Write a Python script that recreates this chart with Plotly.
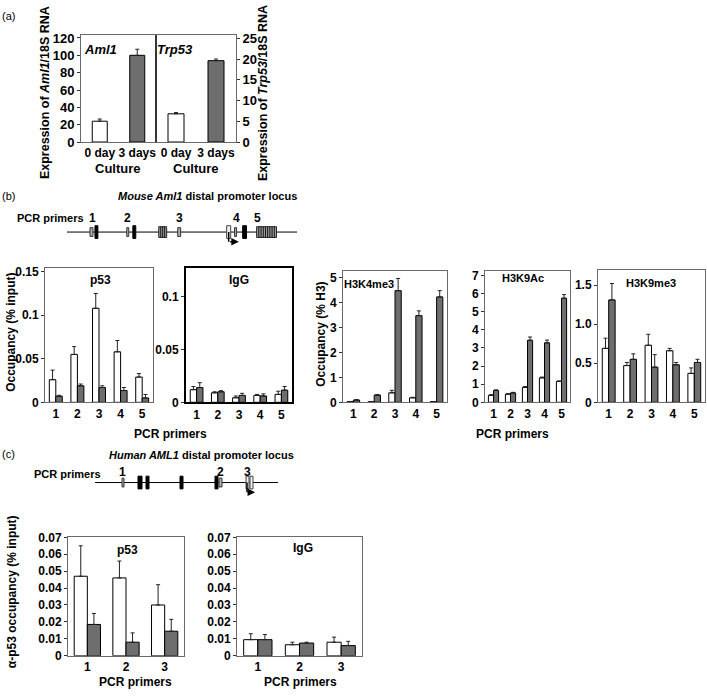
import plotly.graph_objects as go

W, H = 707, 697
FONT = "Liberation Sans"
GREY = "#6e6e6e"
FRAME = "#6a6a6a"

# ---------------- (a) RNA expression ----------------
a_days = ["0 day", "3 days"]
a_aml1 = [24, 100]
a_aml1_err = [2.5, 7]
a_trp53 = [6.8, 19.6]
a_trp53_err = [0.3, 0.4]
a_left_ticks = [0, 20, 40, 60, 80, 100, 120]
a_right_ticks = [0, 5, 10, 15, 20, 25]

# ---------------- (b) mouse Aml1 ChIP ----------------
b_primers = ["1", "2", "3", "4", "5"]
b_p53_0d = [0.026, 0.055, 0.108, 0.058, 0.029]
b_p53_0d_err = [0.011, 0.009, 0.017, 0.013, 0.004]
b_p53_3d = [0.007, 0.019, 0.017, 0.0135, 0.005]
b_p53_3d_err = [0.001, 0.002, 0.002, 0.0035, 0.004]
b_igg_0d = [0.012, 0.009, 0.0043, 0.0065, 0.0075]
b_igg_0d_err = [0.003, 0.001, 0.0017, 0.001, 0.003]
b_igg_3d = [0.014, 0.010, 0.0065, 0.006, 0.0115]
b_igg_3d_err = [0.0046, 0.001, 0.002, 0.002, 0.0035]
b_k4_0d = [0.03, 0.02, 0.38, 0.18, 0.03]
b_k4_0d_err = [0.0, 0.0, 0.1, 0.02, 0.0]
b_k4_3d = [0.09, 0.29, 4.47, 3.47, 4.22]
b_k4_3d_err = [0.02, 0.02, 0.49, 0.19, 0.25]
b_k9ac_0d = [0.38, 0.45, 0.82, 1.35, 1.15]
b_k9ac_0d_err = [0.04, 0.02, 0.05, 0.04, 0.03]
b_k9ac_3d = [0.65, 0.52, 3.42, 3.28, 5.74]
b_k9ac_3d_err = [0.04, 0.03, 0.18, 0.15, 0.2]
b_k9me3_0d = [0.69, 0.47, 0.73, 0.66, 0.37]
b_k9me3_0d_err = [0.13, 0.04, 0.14, 0.03, 0.07]
b_k9me3_3d = [1.31, 0.55, 0.45, 0.48, 0.51]
b_k9me3_3d_err = [0.21, 0.07, 0.16, 0.03, 0.04]

b_p53_ticks = [0, 0.05, 0.1, 0.15]
b_p53_ticktext = ["0", "0.05", "0.1", "0.15"]
b_igg_ticks = [0, 0.05, 0.1]
b_igg_ticktext = ["0", "0.05", "0.1"]
b_k4_ticks = [0, 1, 2, 3, 4, 5]
b_k9ac_ticks = [0, 1, 2, 3, 4, 5, 6, 7]
b_k9me3_ticks = [0, 0.5, 1.0, 1.5]
b_k9me3_ticktext = ["0", "0.5", "1.0", "1.5"]

# ---------------- (c) human AML1 ChIP ----------------
c_primers = ["1", "2", "3"]
c_p53_0d = [0.047, 0.046, 0.030]
c_p53_0d_err = [0.018, 0.010, 0.012]
c_p53_3d = [0.0185, 0.008, 0.0145]
c_p53_3d_err = [0.0065, 0.0055, 0.007]
c_igg_0d = [0.0095, 0.0065, 0.008]
c_igg_0d_err = [0.0035, 0.0015, 0.003]
c_igg_3d = [0.0095, 0.0075, 0.006]
c_igg_3d_err = [0.003, 0.0005, 0.0025]
c_ticks = [0, 0.01, 0.02, 0.03, 0.04, 0.05, 0.06, 0.07]
c_ticktext = ["0", "0.01", "0.02", "0.03", "0.04", "0.05", "0.06", "0.07"]

# ---------------- gene diagrams (kb) ----------------
b_locus_kb = 10.2
b_elements = [  # start, end, kind, stripes
    (1.02, 1.15, "grey", 0), (1.24, 1.37, "black", 0),
    (2.65, 2.74, "grey", 0), (2.92, 3.05, "black", 0),
    (4.07, 4.42, "striped", 3), (4.91, 5.04, "grey", 0),
    (7.08, 7.26, "hollow", 0), (7.43, 7.52, "grey", 0),
    (7.79, 7.96, "black", 0), (8.41, 9.29, "striped", 8),
]
b_primer_labels = ["1", "2", "3", "4", "5"]
b_primer_pos = [1.11, 2.70, 5.00, 7.52, 8.45]
b_tss = 7.17

c_locus_kb = 7.32
c_elements = [
    (1.08, 1.16, "grey", 0), (1.72, 1.88, "black", 0),
    (2.04, 2.16, "black", 0), (3.40, 3.52, "black", 0),
    (4.80, 4.92, "black", 0), (4.96, 5.08, "grey", 0),
    (6.04, 6.16, "hollow", 0), (6.20, 6.32, "hollow", 0),
]
c_primer_labels = ["1", "2", "3"]
c_primer_pos = [1.08, 5.00, 6.08]
c_tss = 6.08
scale_kb = 1.0

fig = go.Figure()
layout = {}
annotations = []
shapes = []


def ax_names(n):
    return ("xaxis" if n == 1 else f"xaxis{n}", "yaxis" if n == 1 else f"yaxis{n}",
            "x" if n == 1 else f"x{n}", "y" if n == 1 else f"y{n}")


def add_axes(n, xpx, ypx, cats, yrange, ticks, ticktext=None, side="left",
             fs=11, xfs=11, frame=FRAME, fw=1):
    xa, ya, xr, yr = ax_names(n)
    tfont = dict(family=FONT, size=fs, color="black", weight="bold")
    layout[xa] = dict(domain=[xpx[0] / W, xpx[1] / W], anchor=yr, type="category",
                      range=[-0.5, len(cats) - 0.5], showline=True, mirror=True,
                      linecolor=frame, linewidth=fw, ticks="", showgrid=False,
                      zeroline=False, fixedrange=True,
                      tickfont=dict(family=FONT, size=xfs, color="black", weight="bold"))
    layout[ya] = dict(domain=[1 - ypx[1] / H, 1 - ypx[0] / H], anchor=xr, range=yrange,
                      tickvals=ticks, ticktext=ticktext if ticktext else [str(t) for t in ticks],
                      ticks="outside", ticklen=3, tickcolor="#333", showline=True,
                      mirror=True, linecolor=frame, linewidth=fw, side=side,
                      showgrid=False, zeroline=False, fixedrange=True, tickfont=tfont)
    return xr, yr


def err(arr):
    return dict(type="data", array=arr, arrayminus=[0] * len(arr), symmetric=False,
                color="#222", thickness=1, width=2)


def pair(n, cats, v0, e0, v3, e3, w):
    _, _, xr, yr = ax_names(n)
    fig.add_trace(go.Bar(x=cats, y=v0, width=w, offset=-w, xaxis=xr, yaxis=yr,
                         marker=dict(color="white", line=dict(color="black", width=1)),
                         error_y=err(e0), showlegend=False))
    fig.add_trace(go.Bar(x=cats, y=v3, width=w, offset=0, xaxis=xr, yaxis=yr,
                         marker=dict(color=GREY, line=dict(color="black", width=1)),
                         error_y=err(e3), showlegend=False))


def ann(text, x, y, size=11, xanchor="center", angle=0, bold=True, ref=("paper", "paper")):
    if ref == ("paper", "paper"):
        x, y = x / W, 1 - y / H
    annotations.append(dict(text=text, x=x, y=y, xref=ref[0], yref=ref[1], showarrow=False,
                            xanchor=xanchor, yanchor="middle", textangle=angle,
                            font=dict(family=FONT, size=size, color="black",
                                      weight="bold" if bold else "normal")))


# ---------- (a) ----------
add_axes(1, (81, 156), (29, 138), a_days, [0, 123], a_left_ticks, fs=13, xfs=12)
add_axes(2, (156, 236), (29, 138), a_days, [0, 25.7], a_right_ticks, side="right", fs=13, xfs=12)
fig.add_trace(go.Bar(x=a_days, y=a_aml1, width=0.4, xaxis="x", yaxis="y", showlegend=False,
                     marker=dict(color=["white", GREY], line=dict(color="black", width=1)),
                     error_y=err(a_aml1_err)))
fig.add_trace(go.Bar(x=a_days, y=a_trp53, width=0.4, xaxis="x2", yaxis="y2", showlegend=False,
                     marker=dict(color=["white", GREY], line=dict(color="black", width=1)),
                     error_y=err(a_trp53_err)))
shapes.append(dict(type="line", xref="paper", yref="paper", x0=156 / W, x1=156 / W,
                   y0=1 - 29 / H, y1=1 - 138 / H, line=dict(color="black", width=1)))
ann("<i>Aml1</i>", 100, 43, 13)
ann("<i>Trp53</i>", 175, 43, 13)
ann("Culture", 118, 165, 13)
ann("Culture", 196, 165, 13)
ann("Expression of <i>Aml1</i>/18S RNA", 45, 88, 12.5, angle=-90)
ann("Expression of <i>Trp53</i>/18S RNA", 263, 88, 12.5, angle=-90)
ann("(a)", 0, 9, 11, xanchor="left", bold=False)

# ---------- (b) ----------
add_axes(3, (45, 153), (267, 404), b_primers, [0, 0.154], b_p53_ticks, b_p53_ticktext, fs=12, xfs=12)
add_axes(4, (186, 292), (267, 404), b_primers, [0, 0.127], b_igg_ticks, b_igg_ticktext, fs=12, xfs=12,
         frame="black", fw=2)
add_axes(5, (343, 447), (270, 404), b_primers, [0, 5.25], b_k4_ticks, fs=12, xfs=12)
add_axes(6, (485, 570), (270, 404), b_primers, [0, 7.23], b_k9ac_ticks, fs=12, xfs=12)
add_axes(7, (598, 705), (269, 404), b_primers, [0, 1.69], b_k9me3_ticks, b_k9me3_ticktext, fs=12, xfs=12)
pair(3, b_primers, b_p53_0d, b_p53_0d_err, b_p53_3d, b_p53_3d_err, 0.3)
pair(4, b_primers, b_igg_0d, b_igg_0d_err, b_igg_3d, b_igg_3d_err, 0.3)
pair(5, b_primers, b_k4_0d, b_k4_0d_err, b_k4_3d, b_k4_3d_err, 0.3)
pair(6, b_primers, b_k9ac_0d, b_k9ac_0d_err, b_k9ac_3d, b_k9ac_3d_err, 0.3)
pair(7, b_primers, b_k9me3_0d, b_k9me3_0d_err, b_k9me3_3d, b_k9me3_3d_err, 0.3)
ann("p53", 100, 279, 12)
ann("IgG", 239, 279, 12)
ann("H3K4me3", 369, 283, 11)
ann("H3K9Ac", 523, 277, 11)
ann("H3K9me3", 651, 282, 11)
ann("Occupancy (% input)", 11, 333, 12, angle=-90)
ann("Occupancy (% H3)", 321, 335, 12, angle=-90)
ann("PCR primers", 170, 436, 12)
ann("PCR primers", 512, 436, 12)
ann("(b)", 0, 193, 11, xanchor="left", bold=False)
ann("<i>Mouse Aml1</i> distal promoter locus", 207, 193, 11)
ann("PCR primers", 50, 216, 11)

# ---------- (c) ----------
add_axes(8, (68, 184), (542, 663), c_primers, [0, 0.07], c_ticks, c_ticktext, fs=12, xfs=12)
add_axes(9, (237, 362), (542, 663), c_primers, [0, 0.07], c_ticks, c_ticktext, fs=12, xfs=12)
pair(8, c_primers, c_p53_0d, c_p53_0d_err, c_p53_3d, c_p53_3d_err, 0.34)
pair(9, c_primers, c_igg_0d, c_igg_0d_err, c_igg_3d, c_igg_3d_err, 0.34)
ann("p53", 127, 555, 12)
ann("IgG", 303, 553, 12)
ann("α-p53 occupancy (% input)", 12, 598, 12, angle=-90)
ann("PCR primers", 135, 690, 12)
ann("PCR primers", 300, 690, 12)
ann("(c)", 0, 457, 11, xanchor="left", bold=False)
ann("<i>Human AML1</i> distal promoter locus", 201, 458, 11)
ann("PCR primers", 67, 477, 11)


# ---------- gene diagrams ----------
def diagram(n, xpx, ycenter, length, elements, plabels, ppos, tss, label_dy, scale_y):
    xa, ya, xr, yr = ax_names(n)
    layout[xa] = dict(domain=[xpx[0] / W, xpx[1] / W], range=[0, length], visible=False,
                      anchor=yr, fixedrange=True)
    layout[ya] = dict(domain=[1 - (ycenter + 15) / H, 1 - (ycenter - 15) / H], range=[-1.5, 1.5],
                      visible=False, anchor=xr, fixedrange=True)
    shapes.append(dict(type="line", xref=xr, yref=yr, x0=0, x1=length, y0=0, y1=0,
                       line=dict(color="black", width=1)))
    for s, e, kind, nstripe in elements:
        if kind == "black":
            shapes.append(dict(type="rect", xref=xr, yref=yr, x0=s, x1=e, y0=-0.65, y1=0.65,
                               fillcolor="black", line=dict(color="black", width=1)))
        elif kind == "grey":
            shapes.append(dict(type="rect", xref=xr, yref=yr, x0=s, x1=e, y0=-0.45, y1=0.45,
                               fillcolor="#b0b0b0", line=dict(color="#333", width=1)))
        elif kind == "hollow":
            shapes.append(dict(type="rect", xref=xr, yref=yr, x0=s, x1=e, y0=-0.65, y1=0.65,
                               fillcolor="#eeeeee", line=dict(color="#444", width=1)))
        else:
            shapes.append(dict(type="rect", xref=xr, yref=yr, x0=s, x1=e, y0=-0.55, y1=0.55,
                               fillcolor="#a0a0a0", line=dict(color="#222", width=1)))
            step = (e - s) / (nstripe + 1)
            for k in range(1, nstripe + 1):
                xs = s + k * step
                shapes.append(dict(type="line", xref=xr, yref=yr, x0=xs, x1=xs, y0=-0.55, y1=0.55,
                                   line=dict(color="#111", width=1)))
    for lab, p in zip(plabels, ppos):
        ann(lab, p, label_dy, 12, ref=(xr, yr))
    # transcription start arrow
    shapes.append(dict(type="line", xref=xr, yref=yr, x0=tss, x1=tss, y0=0, y1=-1.0,
                       line=dict(color="black", width=1.5)))
    annotations.append(dict(x=tss + 0.45 * length / 10.2, y=-1.0, ax=tss, ay=-1.0, xref=xr, yref=yr,
                            axref=xr, ayref=yr, text="", showarrow=True, arrowhead=2,
                            arrowsize=1, arrowwidth=1.5, arrowcolor="black"))
    # 1 kb scale bar
    x0 = 0.22
    shapes.append(dict(type="line", xref=xr, yref=yr, x0=x0, x1=x0 + scale_kb, y0=scale_y, y1=scale_y,
                       line=dict(color="black", width=1)))
    ann("1 kb", x0 + scale_kb / 2, scale_y + 0.55, 11, ref=(xr, yr))


diagram(10, (67, 297), 230, b_locus_kb, b_elements, b_primer_labels, b_primer_pos, b_tss, 1.4, -2.2)
diagram(11, (95, 278), 486, c_locus_kb, c_elements, c_primer_labels, c_primer_pos, c_tss, 1.1, -3.3)

fig.update_layout(**layout)
fig.update_layout(width=W, height=H, margin=dict(l=0, r=0, t=0, b=0),
                  paper_bgcolor="white", plot_bgcolor="white", barmode="overlay",
                  annotations=annotations, shapes=shapes, showlegend=False,
                  font=dict(family=FONT, color="black"))
fig.write_html("out.html", config={"displayModeBar": False},
               post_script="document.body.style.margin='0';document.body.style.overflow='hidden';")
